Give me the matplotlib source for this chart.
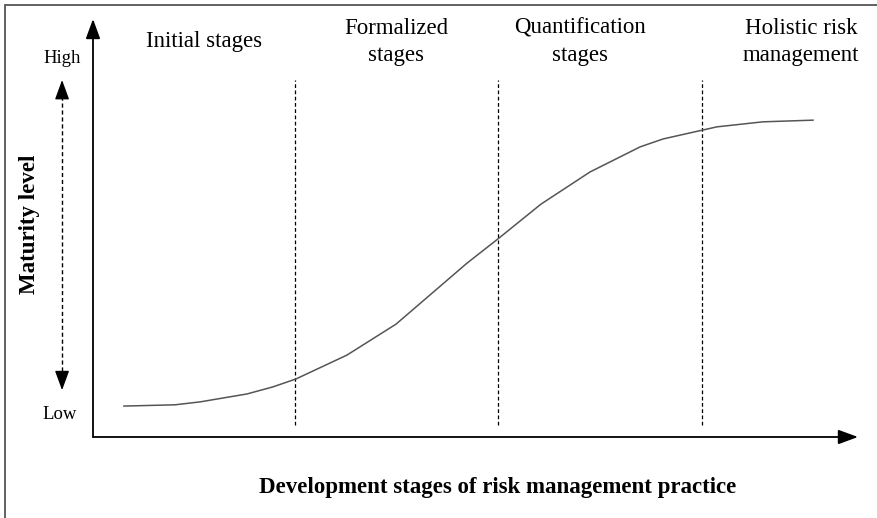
import matplotlib
matplotlib.use("Agg")
import matplotlib.pyplot as plt
from matplotlib.patches import Rectangle

# S-curve: x in stage units (0 = y axis, 1 = one stage width), y = maturity (0..1)
curve_x = [0.152, 0.403, 0.526, 0.757, 0.885, 0.998, 1.248, 1.489, 1.838, 1.990,
           2.201, 2.442, 2.688, 2.801, 2.993, 3.066, 3.292, 3.538]
curve_y = [0.074, 0.077, 0.084, 0.103, 0.120, 0.139, 0.196, 0.270, 0.416, 0.474,
           0.557, 0.634, 0.694, 0.713, 0.734, 0.742, 0.754, 0.758]

stage_bounds = [0.993, 1.990, 2.993]
stage_labels = ["Initial stages", "Formalized\nstages", "Quantification\nstages",
                "Holistic risk\nmanagement"]
stage_label_x = [0.545, 1.489, 2.393, 3.479]

x_max = 3.759
serif = "Liberation Serif"

fig = plt.figure(figsize=(8.77, 5.18), dpi=100)
fig.patch.set_facecolor("white")
fig.patches.append(Rectangle((4.5 / 877, -0.05), 1.2, 1 - 4.5 / 518 + 0.05,
                             transform=fig.transFigure, fill=False,
                             edgecolor="#555555", lw=1.3))

ax = fig.add_axes([93 / 877, 81 / 518, 765 / 877, 418 / 518])
ax.set_xlim(0, x_max)
ax.set_ylim(0, 1)
ax.axis("off")

# axes with arrows
head = "-|>,head_length=0.6,head_width=0.22"
arrow_kw = dict(arrowstyle=head, mutation_scale=20, color="black", lw=1.3,
                shrinkA=0, shrinkB=0)
ax.annotate("", xy=(0, 1), xytext=(0, 0), arrowprops=arrow_kw, annotation_clip=False)
ax.annotate("", xy=(x_max, 0), xytext=(0, 0), arrowprops=arrow_kw, annotation_clip=False)

# dashed maturity arrow: dashed shaft, solid heads
dash_x = -0.152
dash_top, dash_bot = 0.854, 0.112
ax.plot([dash_x, dash_x], [dash_bot + 0.03, dash_top - 0.03], color="black",
        lw=1.0, ls=(0, (3, 2)), clip_on=False)
head_kw = dict(arrowstyle=head, mutation_scale=20, color="black", lw=1.0,
               shrinkA=0, shrinkB=0)
ax.annotate("", xy=(dash_x, dash_top), xytext=(dash_x, dash_top - 0.04),
            arrowprops=head_kw, annotation_clip=False)
ax.annotate("", xy=(dash_x, dash_bot), xytext=(dash_x, dash_bot + 0.04),
            arrowprops=head_kw, annotation_clip=False)

# stage boundaries
for xb in stage_bounds:
    ax.plot([xb, xb], [0.029, 0.854], color="black", lw=0.9, ls=(0, (3, 2)))

ax.plot(curve_x, curve_y, color="#555555", lw=1.1)

for lx, lab in zip(stage_label_x, stage_labels):
    ax.text(lx, 0.945, lab, ha="center", va="center", fontsize=16.5,
            family=serif, linespacing=1.4, clip_on=False)

ax.text(dash_x, 0.905, "High", ha="center", va="center", fontsize=13.5,
        family=serif, clip_on=False)
ax.text(dash_x - 0.01, 0.053, "Low", ha="center", va="center", fontsize=13.5,
        family=serif, clip_on=False)
ax.text(-0.31, 0.51, "Maturity level", ha="center", va="center", rotation=90,
        fontsize=16.5, fontweight="bold", family=serif, clip_on=False)
ax.text(1.99, -0.122, "Development stages of risk management practice",
        ha="center", va="center", fontsize=16.5, fontweight="bold",
        family=serif, clip_on=False)

fig.savefig("out.png", dpi=100)
